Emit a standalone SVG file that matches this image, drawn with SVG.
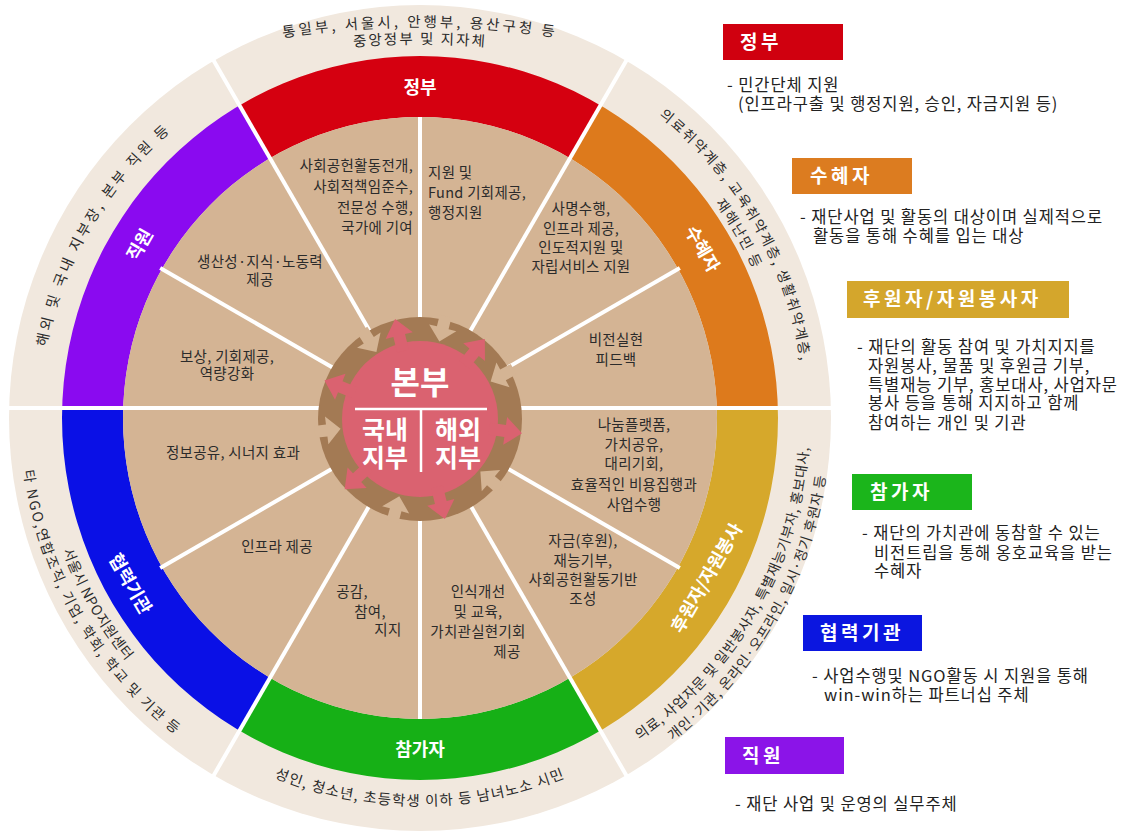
<svg xmlns="http://www.w3.org/2000/svg" width="1125" height="834" viewBox="0 0 1125 834">
<defs>
<style>
text{font-family:"Noto Sans CJK KR","Noto Sans",sans-serif}
.in{font-size:14.5px;fill:#2b2b2b;letter-spacing:0.3px}
.out{font-size:14px;fill:#2b2b2b}
.lab{font-size:18px;font-weight:700;fill:#fff}
.leg{font-size:16.5px;fill:#222;letter-spacing:0.9px}
.box{font-size:19px;font-weight:700;fill:#fff;letter-spacing:3.5px}
.dv{stroke:#fff;stroke-width:4;fill:none}
.hq{font-weight:700;fill:#fff}
.tanA{fill:#D4B494}
.pinkA{fill:#DA6270}
</style>
<clipPath id="ringClip"><path clip-rule="evenodd" d="M62,418 A358,362 0 1 1 778,418 A358,362 0 1 1 62,418 Z M123,418 A297,301 0 1 1 717,418 A297,301 0 1 1 123,418 Z"/></clipPath>
<path id="pTop1" d="M250,43.2 A900,900 0 0 1 590,43.2"/>
<path id="pTop2" d="M330,49.1 A800,800 0 0 1 510,49.1"/>
<path id="pR1" d="M612.5,84.6 A385,385 0 0 1 805,418"/>
<path id="pR2" d="M602.5,101.9 A365,365 0 0 1 785,418"/>
<path id="pA" d="M615,755.7 A390,390 0 0 0 810,418"/>
<path id="pB" d="M625,773.1 A410,410 0 0 0 830,418"/>
<path id="pBot" d="M226,754 A388,388 0 0 0 614,754"/>
<path id="pL1" d="M20,418 A400,400 0 0 0 220,764.4"/>
<path id="pL2" d="M39,418 A381,381 0 0 0 229.5,748"/>
<path id="pUL" d="M40,418 A380,380 0 0 1 230,88.9"/>
<polygon id="tanArrow" points="-6,-106 6,-106 6,-94 14,-94 0,-80 -14,-94 -6,-94"/>
<polygon id="pinkArrow" points="-6,-70 -6,-86 -14,-86 0,-103 14,-86 6,-86 6,-70"/>
</defs>

<rect width="1125" height="834" fill="#fff"/>

<!-- outer beige ring -->
<ellipse id="outerRing" cx="420" cy="418" rx="411" ry="413" fill="#F1E8DE"/>

<!-- coloured role ring -->
<g id="roleRing" clip-path="url(#ringClip)">
  <polygon id="seg-gov" points="420,418 120,-101.6 720,-101.6" fill="#D50010"/>
  <polygon id="seg-beneficiary" points="420,418 720,-101.6 1200,-101.6 1200,408 420,408" fill="#DD7A1C"/>
  <polygon id="seg-donor" points="420,408 1200,408 1200,937.6 720,937.6 420,418" fill="#D6A82B"/>
  <polygon id="seg-participant" points="420,418 720,937.6 120,937.6" fill="#16B016"/>
  <polygon id="seg-partner" points="420,418 120,937.6 -400,937.6 -400,408 420,408" fill="#0A10E6"/>
  <polygon id="seg-staff" points="420,408 -400,408 -400,-101.6 120,-101.6 420,418" fill="#8A0AF0"/>
</g>

<!-- inner tan disk -->
<ellipse id="innerDisk" cx="420" cy="418" rx="297" ry="301" fill="#D4B494"/>

<!-- divider lines -->
<g id="dividers" class="dv">
  <line x1="8" y1="408" x2="832" y2="408"/>
  <line x1="470" y1="331.4" x2="626.5" y2="60.3"/>
  <line x1="370" y1="331.4" x2="213.5" y2="60.3"/>
  <line x1="470" y1="504.6" x2="626.5" y2="775.7"/>
  <line x1="370" y1="504.6" x2="213.5" y2="775.7"/>
  <line x1="420" y1="318" x2="420" y2="117"/>
  <line x1="420" y1="518" x2="420" y2="719"/>
  <line x1="506.6" y1="368" x2="679.8" y2="268"/>
  <line x1="506.6" y1="468" x2="679.8" y2="568"/>
  <line x1="333.4" y1="468" x2="160.2" y2="568"/>
  <line x1="333.4" y1="368" x2="160.2" y2="268"/>
</g>

<!-- outer ring texts -->
<g id="outerTexts" class="out">
  <text font-size="14.5" letter-spacing="3"><textPath href="#pTop1" startOffset="50%" text-anchor="middle">통일부, 서울시, 안행부, 용산구청 등</textPath></text>
  <text font-size="14.5" letter-spacing="2"><textPath href="#pTop2" startOffset="50%" text-anchor="middle">중앙정부 및 지자체</textPath></text>
  <text letter-spacing="1.8"><textPath href="#pR1" startOffset="50%" text-anchor="middle">의료취약계층, 교육취약계층, 생활취약계층,</textPath></text>
  <text letter-spacing="1.6"><textPath href="#pR2" startOffset="50%" text-anchor="middle">재해난민 등</textPath></text>
  <text letter-spacing="0.7"><textPath href="#pA" startOffset="50%" text-anchor="middle">의료, 사업자문 및 일반봉사자, 특별재능기부자, 홍보대사,</textPath></text>
  <text letter-spacing="0.9"><textPath href="#pB" startOffset="50%" text-anchor="middle">개인·기관, 온라인·오프라인, 일시·정기 후원자 등</textPath></text>
  <text font-size="14.5" letter-spacing="1.2"><textPath href="#pBot" startOffset="50%" text-anchor="middle">성인, 청소년, 초등학생 이하 등 남녀노소 시민</textPath></text>
  <text letter-spacing="1.8"><textPath href="#pL1" startOffset="50%" text-anchor="middle">타 NGO,연합조직, 기업, 학회, 학교 및 기관 등</textPath></text>
  <text letter-spacing="0.5"><textPath href="#pL2" startOffset="50%" text-anchor="middle">서울시 NPO지원센터</textPath></text>
  <text font-size="14.5" letter-spacing="2.9"><textPath href="#pUL" startOffset="50%" text-anchor="middle">해외 및 국내 지부장, 본부 직원 등</textPath></text>
</g>

<!-- coloured ring labels -->
<g id="roleLabels" class="lab" text-anchor="middle">
  <text x="420" y="94">정부</text>
  <text transform="translate(702,249) rotate(60)" y="6">수혜자</text>
  <text transform="translate(707,578) rotate(-60)" y="6">후원자/자원봉사</text>
  <text x="420" y="756">참가자</text>
  <text transform="translate(130,584) rotate(60)" y="6">협력기관</text>
  <text transform="translate(140,245) rotate(-60)" y="6">직원</text>
</g>

<!-- inner sector texts -->
<g id="sectorTexts" class="in">
  <g id="s-gov-b">
    <text x="428" y="178">지원 및</text>
    <text x="428" y="198">Fund 기회제공,</text>
    <text x="428" y="218">행정지원</text>
  </g>
  <g id="s-gov-a" text-anchor="end">
    <text x="413" y="171">사회공헌활동전개,</text>
    <text x="413" y="192">사회적책임준수,</text>
    <text x="413" y="213">전문성 수행,</text>
    <text x="413" y="233">국가에 기여</text>
  </g>
  <g id="s-ben-a" text-anchor="middle">
    <text x="581" y="214">사명수행,</text>
    <text x="581" y="234">인프라 제공,</text>
    <text x="581" y="253">인도적지원 및</text>
    <text x="581" y="272">자립서비스 지원</text>
  </g>
  <g id="s-ben-b" text-anchor="middle">
    <text x="616" y="345">비전실현</text>
    <text x="616" y="365">피드백</text>
  </g>
  <g id="s-don-a" text-anchor="middle">
    <text x="634" y="430">나눔플랫폼,</text>
    <text x="634" y="450">가치공유,</text>
    <text x="634" y="469">대리기회,</text>
    <text x="634" y="490">효율적인 비용집행과</text>
    <text x="634" y="510">사업수행</text>
  </g>
  <g id="s-don-b" text-anchor="middle">
    <text x="583" y="546">자금(후원),</text>
    <text x="583" y="566">재능기부,</text>
    <text x="583" y="585">사회공헌활동기반</text>
    <text x="583" y="604">조성</text>
  </g>
  <g id="s-par-a" text-anchor="middle">
    <text x="478" y="597">인식개선</text>
    <text x="478" y="617">및 교육,</text>
    <text x="478" y="637">가치관실현기회</text>
    <text x="507" y="657">제공</text>
  </g>
  <g id="s-par-b" text-anchor="middle">
    <text x="352" y="597">공감,</text>
    <text x="370" y="617">참여,</text>
    <text x="388" y="635">지지</text>
  </g>
  <text id="s-prt-a" x="277" y="552" text-anchor="middle">인프라 제공</text>
  <text id="s-prt-b" x="233" y="458" text-anchor="middle">정보공유, 시너지 효과</text>
  <g id="s-stf-a" text-anchor="middle">
    <text x="227" y="362">보상, 기회제공,</text>
    <text x="227" y="379">역량강화</text>
  </g>
  <g id="s-stf-b" text-anchor="middle">
    <text x="260" y="267">생산성·지식·노동력</text>
    <text x="260" y="285">제공</text>
  </g>
</g>

<!-- headquarters hub -->
<g id="headquarters">
  <g transform="translate(420,419)">
    <circle r="102" fill="#A37A54"/>
    <use href="#tanArrow" class="tanA" transform="rotate(14)"/>
    <use href="#tanArrow" class="tanA" transform="rotate(62)"/>
    <use href="#tanArrow" class="tanA" transform="rotate(131)"/>
    <use href="#tanArrow" class="tanA" transform="rotate(195)"/>
    <use href="#tanArrow" class="tanA" transform="rotate(263)"/>
    <use href="#tanArrow" class="tanA" transform="rotate(327)"/>
    <circle r="78" fill="#DA6270"/>
    <use href="#pinkArrow" class="pinkA" transform="rotate(346)"/>
    <use href="#pinkArrow" class="pinkA" transform="rotate(39)"/>
    <use href="#pinkArrow" class="pinkA" transform="rotate(98)"/>
    <use href="#pinkArrow" class="pinkA" transform="rotate(166)"/>
    <use href="#pinkArrow" class="pinkA" transform="rotate(227)"/>
    <use href="#pinkArrow" class="pinkA" transform="rotate(292)"/>
  </g>
  <path d="M355,409 H487 M421,409 V472" stroke="#fff" stroke-width="2.5" fill="none"/>
  <text class="hq" x="420" y="394" font-size="32" text-anchor="middle">본부</text>
  <text class="hq" x="385" y="439" font-size="25" text-anchor="middle">국내</text>
  <text class="hq" x="385" y="467" font-size="25" text-anchor="middle">지부</text>
  <text class="hq" x="458" y="439" font-size="25" text-anchor="middle">해외</text>
  <text class="hq" x="458" y="467" font-size="25" text-anchor="middle">지부</text>
</g>

<!-- legend -->
<g id="legend-gov">
  <rect x="723" y="24" width="120" height="36" fill="#D0000F"/>
  <text class="box" x="740" y="49">정부</text>
  <text class="leg" x="727" y="91">- 민간단체 지원</text>
  <text class="leg" x="738" y="110">(인프라구출 및 행정지원, 승인, 자금지원 등)</text>
</g>
<g id="legend-beneficiary">
  <rect x="792" y="158" width="120" height="36" fill="#DC7C20"/>
  <text class="box" x="810" y="183">수혜자</text>
  <text class="leg" x="800" y="223">- 재단사업 및 활동의 대상이며 실제적으로</text>
  <text class="leg" x="813" y="242">활동을 통해 수혜를 입는 대상</text>
</g>
<g id="legend-donor">
  <rect x="847" y="281" width="222" height="37" fill="#D4A62C"/>
  <text class="box" x="863" y="306">후원자/자원봉사자</text>
  <text class="leg" x="857" y="353">- 재단의 활동 참여 및 가치지지를</text>
  <text class="leg" x="868" y="372">자원봉사, 물품 및 후원금 기부,</text>
  <text class="leg" x="868" y="391">특별재능 기부, 홍보대사, 사업자문</text>
  <text class="leg" x="868" y="409">봉사 등을 통해 지지하고 함께</text>
  <text class="leg" x="868" y="429">참여하는 개인 및 기관</text>
</g>
<g id="legend-participant">
  <rect x="852" y="474" width="120" height="36" fill="#1BB51B"/>
  <text class="box" x="870" y="499">참가자</text>
  <text class="leg" x="862" y="539">- 재단의 가치관에 동참할 수 있는</text>
  <text class="leg" x="874" y="559">비전트립을 통해 옹호교육을 받는</text>
  <text class="leg" x="874" y="577">수혜자</text>
</g>
<g id="legend-partner">
  <rect x="803" y="615" width="119" height="36" fill="#0B16E0"/>
  <text class="box" x="820" y="640">협력기관</text>
  <text class="leg" x="812" y="682">- 사업수행및 NGO활동 시 지원을 통해</text>
  <text class="leg" x="824" y="701">win-win하는 파트너십 주체</text>
</g>
<g id="legend-staff">
  <rect x="725" y="737" width="119" height="37" fill="#8B14E8"/>
  <text class="box" x="742" y="763">직원</text>
  <text class="leg" x="735" y="810">- 재단 사업 및 운영의 실무주체</text>
</g>
</svg>
